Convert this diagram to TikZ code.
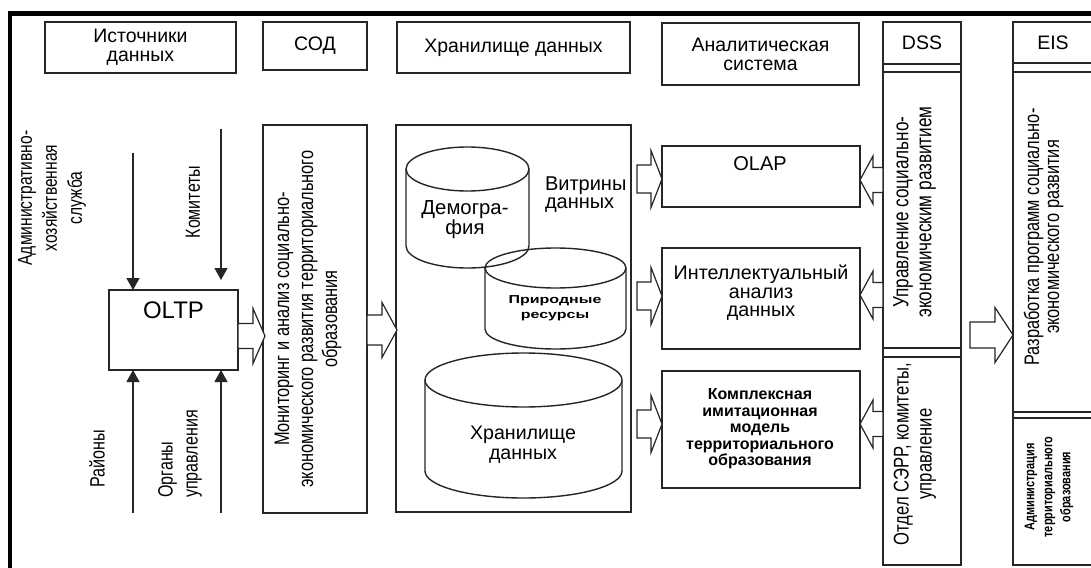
\documentclass[tikz,border=0pt]{standalone}
\usepackage{fontspec}
\setmainfont{Liberation Sans}
\usetikzlibrary{arrows.meta}
\newcommand{\myfs}[2]{\fontsize{#1}{#2}\selectfont}
\newcommand{\mybox}[6]{\node[bx, minimum width={(#4)-(#2)}, minimum height={(#5)-(#3)}] (#1) at ({((#2)+(#4))/2},{((#3)+(#5))/2}) {#6};}
% start x, head-base x, tip x, y, body half height, head half height
\newcommand{\myblk}[6]{\draw[blk] (#1,{#4-#5}) -- (#2,{#4-#5}) -- (#2,{#4-#6}) -- (#3,#4) -- (#2,{#4+#6}) -- (#2,{#4+#5}) -- (#1,{#4+#5}) -- cycle;}
\begin{document}
\begin{tikzpicture}[x=1pt,y=-1pt,
  bx/.style={draw=black!85, line width=1.1pt, inner sep=0pt, outer sep=0pt, align=center, font=\myfs{19.5}{19}},
  t/.style={inner sep=0pt, outer sep=0pt, align=center},
  rt/.style={t, yscale=0.78, rotate=90},
  blk/.style={draw=black!85, line width=1.2pt, fill=white, line join=miter},
  arr/.style={draw=black!85, line width=1.3pt, -{Triangle[length=12pt,width=13pt]}},
  cyl/.style={draw=black!85, line width=1.4pt}]
\useasboundingbox (0,0) rectangle (1091,567);
\clip (0,0) rectangle (1091,567);
\fill[white] (0,0) rectangle (1091,567);
% outer frame
\draw[line width=4.5pt] (10,575) -- (10,13.5) -- (1100,13.5);
% headers
\mybox{hsrc}{45}{22}{236}{73}{Источники\\данных}
\mybox{hsod}{263}{22}{367}{70}{СОД}
\mybox{hdw}{397}{22}{630}{73}{Хранилище данных}
\mybox{han}{662}{23}{859}{85}{Аналитическая\\система}
\mybox{dsshead}{883}{22}{961}{64}{DSS}
\mybox{eishead}{1013}{22}{1093}{63}{EIS}
% columns
\mybox{dsstop}{883}{72}{961}{348}{}
\mybox{dssbot}{883}{357}{961}{565}{}
\mybox{eistop}{1013}{72}{1093}{412}{}
\mybox{eisbot}{1013}{418}{1093}{565}{}
\draw[draw=black!85, line width=1.1pt] (dsshead.north west) rectangle (dssbot.south east);
\draw[draw=black!85, line width=1.1pt] (eishead.north west) rectangle (eisbot.south east);
% boxes
\mybox{oltp}{109}{290}{238}{370}{}
\mybox{sod}{263}{125}{367}{513}{}
\mybox{dw}{396}{125}{631}{512}{}
\mybox{olap}{662}{146}{860}{207}{}
\mybox{intel}{662}{248}{860}{349}{}
\mybox{kompl}{662}{371}{860}{488}{}
% cylinders
\draw[cyl] (467.5,169) ellipse [x radius=61.5, y radius=22];
\draw[cyl] (406,169) -- (406,246) arc[start angle=180, end angle=0, x radius=61.5, y radius=22] -- (529,169);
\draw[cyl] (555.5,268) ellipse [x radius=70.5, y radius=20];
\draw[cyl] (485,268) -- (485,329) arc[start angle=180, end angle=0, x radius=70.5, y radius=20] -- (626,268);
\draw[cyl] (523.5,380) ellipse [x radius=98.5, y radius=27];
\draw[cyl] (425,380) -- (425,471) arc[start angle=180, end angle=0, x radius=98.5, y radius=27] -- (622,380);
% texts
\node[t, font=\myfs{24}{24}, anchor=base] (toltp) at (173.5,318) {OLTP};
\node[t, font=\myfs{20}{20}, anchor=base] (tolap) at (760,170) {OLAP};
\node[t, font=\myfs{19.7}{18.5}] (tintel) at (761,293) {Интеллектуальный\\анализ\\данных};
\node[t, font=\bfseries\myfs{16}{16.5}] (tkompl) at (760,429) {Комплексная\\имитационная\\модель\\территориального\\образования};
\node[t, font=\myfs{20}{18}, align=left, anchor=north west] (tvitr) at (545,177) {Витрины\\данных};
\node[t, font=\myfs{20.3}{18}] (tdemo) at (465,220) {Демогра-\\фия};
\node[t, font=\bfseries\myfs{16}{21}, yscale=0.72] (tprir) at (555,308) {Природные\\ресурсы};
\node[t, font=\myfs{19.6}{20}] (tdwc) at (523,445) {Хранилище\\данных};
% rotated texts
\node[rt, font=\myfs{21}{24}] (tsod) at (308,319) {Мониторинг и анализ социально-\\экономического развития территориального\\образования};
\node[rt, font=\myfs{20}{25}] (tadm) at (52,198) {Административно-\\хозяйственная\\служба};
\node[rt, font=\myfs{20.5}{24}] (tkom) at (193,202) {Комитеты};
\node[rt, font=\myfs{20.7}{24}] (trai) at (97,459) {Районы};
\node[rt, font=\myfs{20.6}{25}, align=left] (torg) at (180,454) {Органы\\управления};
\node[rt, font=\myfs{22}{23}] (tdss1) at (914.5,212) {Управление социально-\\экономическим развитием};
\node[rt, font=\myfs{21.3}{23}] (tdss2) at (915,454) {Отдел СЭРР, комитеты,\\управление};
\node[rt, font=\myfs{21}{20}] (teis1) at (1043.5,237) {Разработка программ социально-\\экономического развития};
\node[rt, font=\bfseries\myfs{14}{18}] (teis2) at (1049,487) {Администрация\\территориального\\образования};
% thin arrows
\coordinate (a1s) at (133,153);
\coordinate (a2s) at (221,129);
\coordinate (a2e) at (221,280);
\coordinate (a3s) at (133,513);
\coordinate (a4s) at (221,513);
\draw[arr] (a1s) -- (oltp.north -| a1s);
\draw[arr] (a2s) -- (a2e);
\draw[arr] (a3s) -- (oltp.south -| a3s);
\draw[arr] (a4s) -- (oltp.south -| a4s);
% block arrows
\myblk{238}{253}{265}{336}{12.5}{27.5}
\myblk{367}{382}{397}{330}{15}{27.5}
\myblk{637}{651}{662}{179}{14}{28.5}
\myblk{637}{651}{662}{296}{14}{28.5}
\myblk{637}{651}{662}{424}{14}{28.5}
\myblk{883}{873}{860}{180}{12.5}{24}
\myblk{883}{873}{860}{295}{12.5}{24}
\myblk{883}{873}{860}{424}{12.5}{24}
\myblk{970}{995}{1013}{335}{13}{27.5}
\end{tikzpicture}
\end{document}
